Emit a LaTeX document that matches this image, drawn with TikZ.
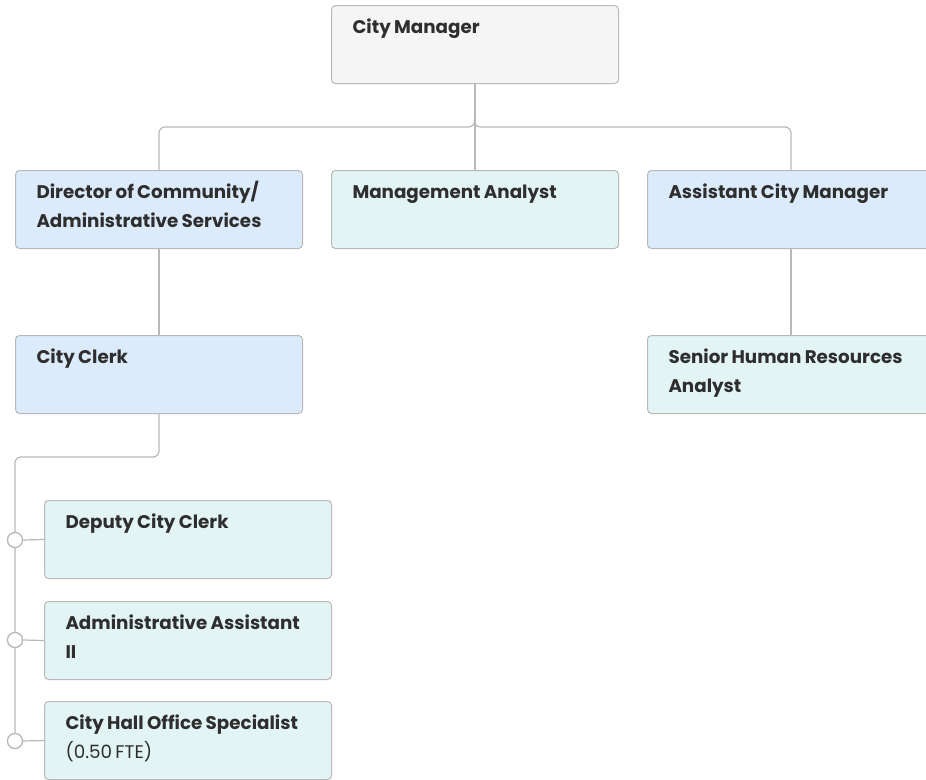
\documentclass[tikz,border=0pt]{standalone}
\usepackage{fontspec}
\setmainfont{Poppins}
\usetikzlibrary{positioning}

\definecolor{ink}{HTML}{2E2E2E}
\definecolor{edgegray}{HTML}{B9B9B9}
\definecolor{headfill}{HTML}{F5F5F5}
\definecolor{deptfill}{HTML}{DCEBFC}
\definecolor{stafffill}{HTML}{E3F4F4}

% card text: fixed height, first baseline 28pt below the top edge
\newcommand{\card}[1]{\parbox[c][78pt][t]{245pt}{\raggedright
  \fontsize{18.3}{28.7}\selectfont\rule{0pt}{28pt}#1}}

\begin{document}
\begin{tikzpicture}[x=1pt, y=-1pt,
    post/.style={draw=edgegray, line width=1pt, rounded corners=4pt,
      anchor=north west, inner xsep=21pt, inner ysep=0pt,
      text width=245pt, font=\bfseries, text=ink},
    head/.style={post, fill=headfill},
    dept/.style={post, fill=deptfill},
    staff/.style={post, fill=stafffill},
    link/.style={draw=edgegray, line width=1.2pt},
    knob/.style={circle, draw=edgegray, line width=1.2pt, fill=white,
      minimum size=15pt, inner sep=0pt}]
  \useasboundingbox (0,0) rectangle (926,779);

  \node[head]  (cm)     at (331,5)   {\card{City Manager}};
  \node[dept]  (dir)    at (15,170)  {\card{Director of Community/\\Administrative Services}};
  \node[staff] (ma)     at (331,170) {\card{Management Analyst}};
  \node[dept]  (acm)    at (647,170) {\card{Assistant City Manager}};
  \node[dept]  (clerk)  at (15,335)  {\card{City Clerk}};
  \node[staff] (hr)     at (647,335) {\card{Senior Human Resources\\Analyst}};
  \node[staff] (deputy) at (44,500)  {\card{Deputy City Clerk}};
  \node[staff] (admin)  at (44,601)  {\card{Administrative Assistant\\II}};
  \node[staff] (office) at (44,701)  {\card{City Hall Office Specialist\\{\mdseries(0.50 FTE)}}};

  \coordinate (bus) at (474.5,127);
  \coordinate (rail) at (15,457);

  % top level
  \draw[link] (cm.south) -- (ma.north);
  \draw[link, rounded corners=6pt] (dir.north) |- (bus) -- (cm.south);
  \draw[link, rounded corners=6pt] (acm.north) |- (bus) -- (cm.south);

  % second level
  \draw[link] (dir.south) -- (clerk.north);
  \draw[link] (acm.south) -- (hr.north);

  % clerk's office, hung on a rail
  \node[knob] (k1) at (15,540) {};
  \node[knob] (k2) at (15,640) {};
  \node[knob] (k3) at (15,741) {};
  \draw[link, rounded corners=6pt] (clerk.south) |- (rail) -- (k3.north);
  \foreach \k in {k1,k2,k3}
    \node[knob] at (\k) {};
  \draw[link] (k1.east) -- (deputy.west);
  \draw[link] (k2.east) -- (admin.west);
  \draw[link] (k3.east) -- (office.west);
\end{tikzpicture}
\end{document}
